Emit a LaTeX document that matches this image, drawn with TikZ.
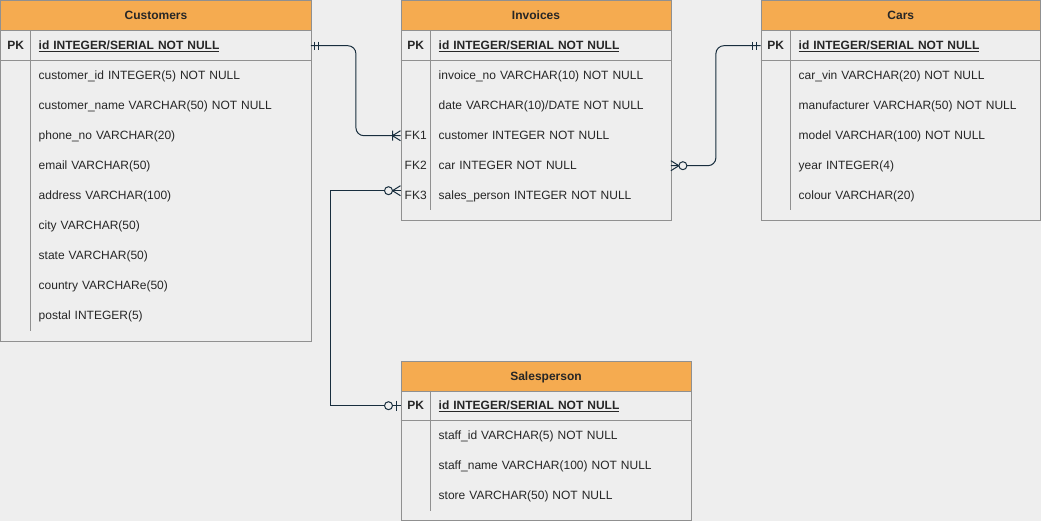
\documentclass[tikz,border=0pt]{standalone}
\usepackage{fontspec}
\setmainfont{Liberation Sans}

\definecolor{bg}{HTML}{EEEEEE}
\definecolor{hdrfill}{HTML}{F5AB50}
\definecolor{rim}{HTML}{909090}
\definecolor{link}{HTML}{182E3E}
\definecolor{ink}{HTML}{262626}

\newcommand{\txtfont}{\fontsize{12}{14}\selectfont}
\newcommand{\pkline}[1]{\underline{#1}}

\tikzset{
  tbl/.style={draw=rim, fill=bg, line width=1pt, inner sep=0pt, anchor=north west},
  hdr/.style={tbl, fill=hdrfill, minimum height=30pt, font=\txtfont\bfseries, text=ink,
    text height=10pt, text depth=2pt},
  key/.style={minimum width=30pt, minimum height=30pt, inner sep=0pt, text=ink,
    anchor=north west, text height=10pt, text depth=2pt},
  pkey/.style={key, font=\txtfont\bfseries},
  fld/.style={minimum height=30pt, inner xsep=8pt, inner ysep=0pt, text=ink,
    anchor=north west, text height=10pt, text depth=2pt},
  pkfld/.style={fld, font=\txtfont\bfseries},
  sep/.style={draw=rim, line width=1pt},
  mone/.pic={\draw (4,-4) -- (4,4) (8,-4) -- (8,4);},
  onemany/.pic={\draw (0,-5) -- (8,0) -- (0,5) (8,-5) -- (8,5);},
  zeromany/.pic={\draw (0,-5) -- (8,0) -- (0,5); \draw[fill=bg] (12,0) circle (4pt);},
  zeroone/.pic={\draw (4,-5) -- (4,5); \draw[fill=bg] (12,0) circle (4pt);},
}

\begin{document}
\begin{tikzpicture}[x=1pt, y=-1pt, font=\txtfont]
  \fill[bg] (-0.5,-0.5) rectangle (1040.5,520.5);
  \useasboundingbox (-0.5,-0.5) rectangle (1040.5,520.5);

  % Customers
  \node[tbl, minimum width=310pt, minimum height=340pt] (cust) at (0,0) {};
  \node[hdr, minimum width=310pt] (custh) at (0,0) {Customers};
  \draw[sep] (0,60) -- (310,60) (30,30) -- (30,330);
  \node[pkey] (cpkk) at (0,30) {PK};
  \node[pkfld, text width=264pt] (cpk) at (30,30) {\pkline{id INTEGER/SERIAL NOT NULL}};
  \foreach \t [count=\i] in {customer\_id INTEGER(5) NOT NULL, customer\_name VARCHAR(50) NOT NULL,
      phone\_no VARCHAR(20), email VARCHAR(50), address VARCHAR(100), city VARCHAR(50),
      state VARCHAR(50), country VARCHARe(50), postal INTEGER(5)}
    \node[fld, text width=264pt] (c\i) at (30,30+30*\i) {\t};

  % Invoices
  \node[tbl, minimum width=270pt, minimum height=220pt] (inv) at (400,0) {};
  \node[hdr, minimum width=270pt] (invh) at (400,0) {Invoices};
  \draw[sep] (400,60) -- (670,60) (430,30) -- (430,210);
  \node[pkey] (ipkk) at (400,30) {PK};
  \node[pkfld, text width=224pt] (ipk) at (430,30) {\pkline{id INTEGER/SERIAL NOT NULL}};
  \foreach \t [count=\i] in {invoice\_no VARCHAR(10) NOT NULL, date VARCHAR(10)/DATE NOT NULL,
      customer INTEGER NOT NULL, car INTEGER NOT NULL, sales\_person INTEGER NOT NULL}
    \node[fld, text width=224pt] (i\i) at (430,30+30*\i) {\t};
  \foreach \k [count=\i from 3] in {FK1, FK2, FK3}
    \node[key] (\k) at (400,30+30*\i) {\k};

  % Cars
  \node[tbl, minimum width=279.5pt, minimum height=220pt] (car) at (760,0) {};
  \node[hdr, minimum width=279.5pt] (carh) at (760,0) {Cars};
  \draw[sep] (760,60) -- (1040,60) (790,30) -- (790,210);
  \node[pkey] (kpkk) at (760,30) {PK};
  \node[pkfld, text width=234pt] (kpk) at (790,30) {\pkline{id INTEGER/SERIAL NOT NULL}};
  \foreach \t [count=\i] in {car\_vin VARCHAR(20) NOT NULL, manufacturer VARCHAR(50) NOT NULL,
      model VARCHAR(100) NOT NULL, year INTEGER(4), colour VARCHAR(20)}
    \node[fld, text width=234pt] (k\i) at (790,30+30*\i) {\t};

  % Salesperson
  \node[tbl, minimum width=290pt, minimum height=159.5pt] (sal) at (400,360) {};
  \node[hdr, minimum width=290pt] (salh) at (400,360) {Salesperson};
  \draw[sep] (400,420) -- (690,420) (430,390) -- (430,510);
  \node[pkey] (spkk) at (400,390) {PK};
  \node[pkfld, text width=244pt] (spk) at (430,390) {\pkline{id INTEGER/SERIAL NOT NULL}};
  \foreach \t [count=\i] in {staff\_id VARCHAR(5) NOT NULL, staff\_name VARCHAR(100) NOT NULL,
      store VARCHAR(50) NOT NULL}
    \node[fld, text width=244pt] (s\i) at (430,390+30*\i) {\t};

  % relations
  \begin{scope}[draw=link, line width=1pt]
    \draw[rounded corners=8pt] (cpk.east) -- ++(45,0) |- (FK1.west);
    \draw[rounded corners=8pt] (i4.east) -- ++(45,0) |- (kpkk.west);
    \draw ([yshift=5pt]FK3.west) -- ++(-70,0) |- (spkk.west);
    \pic at (cpk.east) {mone};
    \pic[xscale=-1] at (FK1.west) {onemany};
    \pic at (i4.east) {zeromany};
    \pic[xscale=-1] at (kpkk.west) {mone};
    \pic[xscale=-1] at ([yshift=5pt]FK3.west) {zeromany};
    \pic[xscale=-1] at (spkk.west) {zeroone};
  \end{scope}
\end{tikzpicture}
\end{document}
